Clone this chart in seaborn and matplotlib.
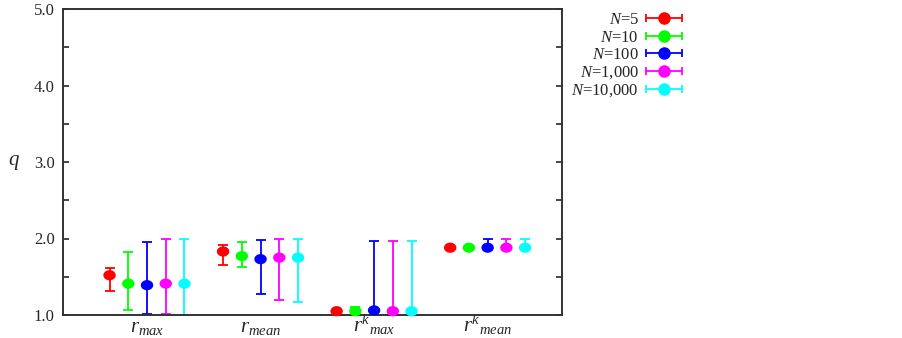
import numpy as np
import pandas as pd
import matplotlib
matplotlib.use("Agg")
import matplotlib.pyplot as plt
import seaborn as sns
from matplotlib.legend_handler import HandlerErrorbar
from matplotlib.path import Path

categories = [r"$r_{max}$", r"$r_{mean}$", r"$r^{k}{}_{max}$", r"$r^{k}{}_{mean}$"]
series = ["N=5", "N=10", "N=100", "N=1,000", "N=10,000"]
labels = [r"$N$=5", r"$N$=10", r"$N$=100", r"$N$=1,000", r"$N$=10,000"]
colors = ["#ff0000", "#00ff00", "#0000ff", "#ff00ff", "#00ffff"]

# q values (points) per series, per category
q_n5 = [1.52, 1.83, 1.05, 1.88]
q_n10 = [1.41, 1.77, 1.05, 1.88]
q_n100 = [1.39, 1.73, 1.06, 1.88]
q_n1000 = [1.41, 1.75, 1.05, 1.88]
q_n10000 = [1.41, 1.75, 1.05, 1.88]

# upper ends of error bars
hi_n5 = [1.61, 1.92, 1.05, 1.88]
hi_n10 = [1.83, 1.95, 1.10, 1.88]
hi_n100 = [1.95, 1.98, 1.97, 2.00]
hi_n1000 = [2.00, 2.00, 1.97, 2.00]
hi_n10000 = [2.00, 2.00, 1.97, 2.00]

# lower ends of error bars
lo_n5 = [1.32, 1.65, 1.05, 1.88]
lo_n10 = [1.06, 1.63, 1.03, 1.88]
lo_n100 = [1.01, 1.27, 1.00, 1.88]
lo_n1000 = [1.01, 1.20, 1.00, 1.88]
lo_n10000 = [1.00, 1.17, 1.00, 1.88]

qs = [q_n5, q_n10, q_n100, q_n1000, q_n10000]
his = [hi_n5, hi_n10, hi_n100, hi_n1000, hi_n10000]
los = [lo_n5, lo_n10, lo_n100, lo_n1000, lo_n10000]

sns.set_style("ticks")
plt.rcParams["font.family"] = ["Liberation Serif", "DejaVu Serif"]
plt.rcParams["mathtext.fontset"] = "custom"
plt.rcParams["mathtext.it"] = "Liberation Serif:italic"
plt.rcParams["mathtext.rm"] = "Liberation Serif"
plt.rcParams["mathtext.bf"] = "Liberation Serif:bold"

fig = plt.figure(figsize=(9.03, 3.38), dpi=100)
ax = fig.add_axes([63 / 903, 1 - 315 / 338, (562 - 63) / 903, (315 - 9) / 338])

# slightly flattened circle marker
t = np.linspace(0, 2 * np.pi, 41)
ellipse = Path(np.column_stack([np.cos(t), 0.82 * np.sin(t)]), closed=True)

offsets = np.array([-2, -1, 0, 1, 2]) * 0.165
xpos = np.arange(1, len(categories) + 1)

rows = []
for s, q in zip(series, qs):
    for c, v in zip(categories, q):
        rows.append({"series": s, "category": c, "q": v})
df = pd.DataFrame(rows)
df["x"] = [xpos[categories.index(c)] + offsets[series.index(s)] for s, c in zip(df["series"], df["category"])]

for i, (s, q, hi, lo, col) in enumerate(zip(series, qs, his, los, colors)):
    x = xpos + offsets[i]
    q = np.array(q); hi = np.array(hi); lo = np.array(lo)
    ax.errorbar(x, q, yerr=[q - lo, hi - q], fmt="none", ecolor=col,
                elinewidth=1.3, capsize=3.5, capthick=1.3, zorder=2, clip_on=True)

sns.scatterplot(data=df, x="x", y="q", hue="series", palette=colors,
                hue_order=series, s=80, marker=ellipse, edgecolor="none",
                legend=False, ax=ax, zorder=3, clip_on=False)

ax.set_xlim(0.26, 4.655)
ax.set_ylim(1.0, 5.0)
ax.set_xticks(xpos)
ax.set_xticklabels(categories, fontsize=15, va="baseline")
ax.tick_params(axis="x", length=0, pad=12.3)
ax.set_yticks([1, 2, 3, 4, 5])
ax.set_yticklabels(["1.0", "2.0", "3.0", "4.0", "5.0"], fontsize=12)
ax.set_yticks([1.5, 2.5, 3.5, 4.5], minor=True)
ax.tick_params(axis="y", which="both", direction="in", length=4.5, width=1.2,
               left=True, right=True, pad=6)
ax.set_xlabel("")
ax.set_ylabel(r"$q$", fontsize=15, rotation=0, labelpad=14, va="center")
for sp in ax.spines.values():
    sp.set_visible(True)
    sp.set_linewidth(1.4)
    sp.set_color("#333333")

# legend proxies
handles = []
for lab, col in zip(labels, colors):
    h = ax.errorbar([np.nan], [np.nan], xerr=[1], fmt="o", color=col,
                    ecolor=col, markersize=8, elinewidth=1.3, capsize=3,
                    capthick=1.3, label=lab)
    handles.append(h)
leg = fig.legend(handles=handles, labels=labels, loc="upper left",
                 bbox_to_anchor=(563 / 903, 1 - 4 / 338), frameon=False,
                 markerfirst=False, fontsize=12, handlelength=2.2,
                 handletextpad=0.4, labelspacing=0.08, borderpad=0,
                 handler_map={type(handles[0]): HandlerErrorbar(xerr_size=1.1)})

fig.savefig("out.png", dpi=100)
